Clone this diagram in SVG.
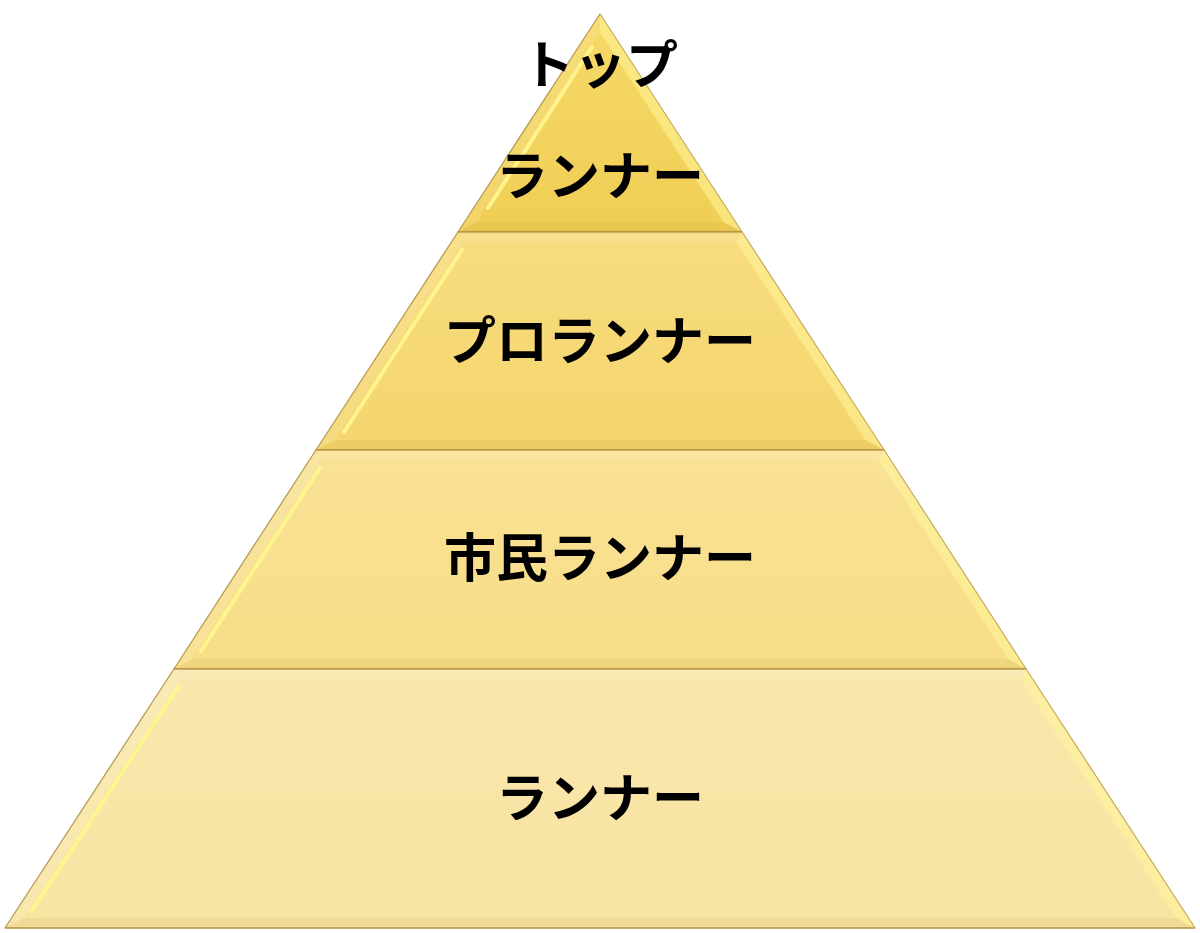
<svg xmlns="http://www.w3.org/2000/svg" width="1200" height="933" viewBox="0 0 1200 933">
  <defs>
    <linearGradient id="g1" x1="0" y1="0" x2="0" y2="1">
      <stop offset="0" stop-color="#F6D967"/>
      <stop offset="1" stop-color="#F0CE55"/>
    </linearGradient>
    <linearGradient id="g2" x1="0" y1="0" x2="0" y2="1">
      <stop offset="0" stop-color="#F8DC7E"/>
      <stop offset="1" stop-color="#F4D56E"/>
    </linearGradient>
    <linearGradient id="g3" x1="0" y1="0" x2="0" y2="1">
      <stop offset="0" stop-color="#F9E296"/>
      <stop offset="1" stop-color="#F7DD86"/>
    </linearGradient>
    <linearGradient id="g4" x1="0" y1="0" x2="0" y2="1">
      <stop offset="0" stop-color="#F9E7AC"/>
      <stop offset="1" stop-color="#F8E4A2"/>
    </linearGradient>
  </defs>
  <style>
    .outer { stroke: #B39445; stroke-width: 1.3; stroke-linejoin: round; }
    .lf { fill: #FFFFFF; fill-opacity: 0.12; }
    .rf { fill: #FFF59A; fill-opacity: 0.55; }
    .tf { fill: #FFFFFF; fill-opacity: 0.10; }
    .bf { fill: #9A7A10; fill-opacity: 0.08; }
    .hl { stroke: #FFF58E; stroke-width: 4; stroke-linecap: round; opacity: 0.95; fill: none; }
    .lbl { font-family: "Noto Sans CJK JP", "Noto Sans", sans-serif; font-weight: 700; font-size: 52px; fill: #000000; text-anchor: middle; }
  </style>

  <g id="tier-top">
    <polygon class="outer" fill="url(#g1)" points="600,14 458,232 742,232"/>
    <polygon class="lf" points="600,14 458,232 476.6,222 600,32.4"/>
    <polygon class="rf" points="600,14 742,232 723.4,222 600,32.4"/>
    <polygon class="bf" points="458,232 742,232 723.4,222 476.6,222"/>
    <line class="hl" x1="592" y1="47" x2="488" y2="208"/>
  </g>

  <g id="tier-pro">
    <polygon class="outer" fill="url(#g2)" points="458,232 742,232 884,450 316,450"/>
    <polygon class="tf" points="458,232 742,232 736.4,242 463.6,242"/>
    <polygon class="lf" points="458,232 463.6,242 334.7,440 316,450"/>
    <polygon class="rf" points="742,232 884,450 865.3,440 736.4,242"/>
    <polygon class="bf" points="316,450 884,450 865.3,440 334.7,440"/>
    <line class="hl" x1="462" y1="250" x2="344" y2="432"/>
  </g>

  <g id="tier-citizen">
    <polygon class="outer" fill="url(#g3)" points="316,450 884,450 1026,669 174,669"/>
    <polygon class="tf" points="316,450 884,450 878.3,460 321.7,460"/>
    <polygon class="lf" points="316,450 321.7,460 192.1,659 174,669"/>
    <polygon class="rf" points="884,450 1026,669 1007.9,659 878.3,460"/>
    <polygon class="bf" points="174,669 1026,669 1007.9,659 192.1,659"/>
    <line class="hl" x1="320" y1="468" x2="201" y2="651"/>
  </g>

  <g id="tier-runner">
    <polygon class="outer" fill="url(#g4)" points="174,669 1026,669 1195,928 5,928"/>
    <polygon class="tf" points="174,669 1026,669 1020.9,679 179.1,679"/>
    <polygon class="lf" points="174,669 179.1,679 23.5,918 5,928"/>
    <polygon class="rf" points="1026,669 1195,928 1176.5,918 1020.9,679"/>
    <polygon class="bf" points="5,928 1195,928 1176.5,918 23.5,918"/>
    <line class="hl" x1="178" y1="687" x2="31" y2="912"/>
  </g>

  <g id="labels">
    <text class="lbl" x="600" y="84">トップ</text>
    <text class="lbl" x="600" y="195">ランナー</text>
    <text class="lbl" x="600" y="360">プロランナー</text>
    <text class="lbl" x="600" y="577">市民ランナー</text>
    <text class="lbl" x="600" y="817">ランナー</text>
  </g>
</svg>
